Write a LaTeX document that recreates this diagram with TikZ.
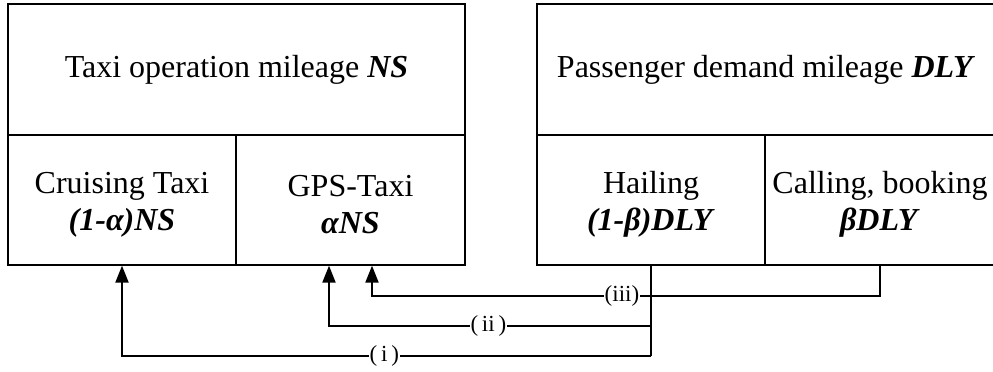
\documentclass[tikz,border=0pt]{standalone}
\usepackage{fontspec}
\setmainfont{Liberation Serif}
\usetikzlibrary{arrows.meta,calc}
\tikzset{
 cell/.style={draw, line width=1.3pt, inner sep=0pt, align=center, font=\fontsize{32}{37}\selectfont},
 conn/.style={line width=2pt, -{Triangle[length=17pt,width=13pt]}},
 trunk/.style={line width=2pt},
 lab/.style={fill=white, inner sep=1pt, font=\fontsize{23}{27}\selectfont},
}
\newcommand{\bitx}[1]{\textbf{\textit{#1}}}
\newcommand{\lowr}{\rule{0pt}{30pt}}
\begin{document}
\begin{tikzpicture}[x=1pt,y=1pt]
\useasboundingbox (0,0) rectangle (993,-372);
\clip (0,0) rectangle (993,-372);
% left group
\node[cell, minimum width=457pt, minimum height=131pt] (ns) at (236.5,-69.5) {Taxi operation mileage \bitx{NS}};
\node[cell, minimum width=228pt, minimum height=130pt] (cruise) at (122,-200) {\lowr Cruising Taxi\\\bitx{(1-α)NS}};
\node[cell, minimum width=229pt, minimum height=130pt] (gps) at (350.5,-200) {\lowr GPS-Taxi\\\bitx{αNS}};
% right group
\node[cell, minimum width=458pt, minimum height=131pt] (dly) at (766,-69.5) {Passenger demand mileage \bitx{DLY}};
\node[cell, minimum width=228pt, minimum height=130pt] (hail) at (651,-200) {\lowr Hailing\\\bitx{(1-β)DLY}};
\node[cell, minimum width=230pt, minimum height=130pt] (call) at (880,-200) {\lowr Calling, booking\\\bitx{βDLY}};
% connector coordinates
\coordinate (t1) at (cruise.south);
\coordinate (t2) at ($(gps.south)+(-21.5,0)$);
\coordinate (t3) at ($(gps.south)+(21.5,0)$);
\coordinate (h1) at ($(hail.south)+(0,-90)$);
\coordinate (h2) at ($(hail.south)+(0,-60)$);
\coordinate (c3) at ($(call.south)+(0,-30)$);
% connectors
\draw[trunk] (hail.south) -- (h1);
\draw[conn] (h1) -- node[lab, pos=0.504] {(\,i\,)} (h1 -| t1) -- (t1);
\draw[conn] (h2) -- node[lab, pos=0.505] {(\,ii\,)} (h2 -| t2) -- (t2);
\draw[conn] (call.south) -- (c3) -- node[lab, pos=0.508] {(iii)} (c3 -| t3) -- (t3);
\end{tikzpicture}
\end{document}
